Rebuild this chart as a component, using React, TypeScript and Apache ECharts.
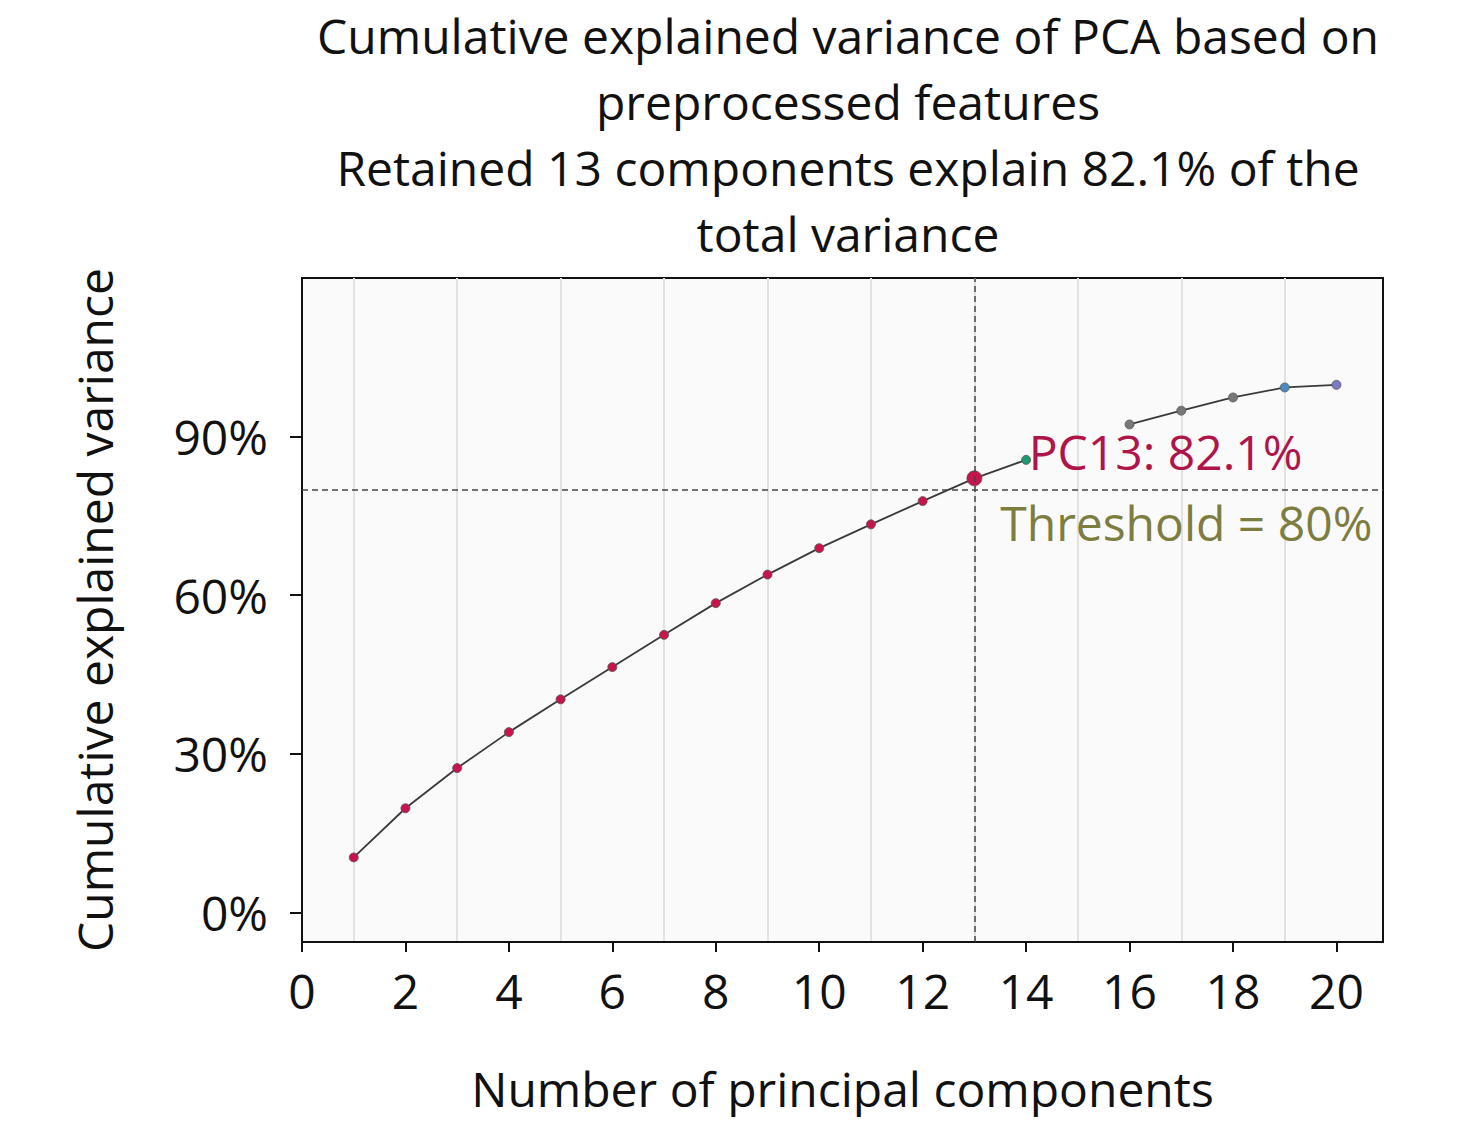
import React, { useEffect, useRef } from "react";
import * as echarts from "echarts";

const components = [1, 2, 3, 4, 5, 6, 7, 8, 9, 10, 11, 12, 13, 14, 15, 16, 17, 18, 19, 20];
const cumulative = [10.4, 19.7, 27.3, 34.1, 40.3, 46.4, 52.5, 58.5, 63.9, 68.9, 73.4, 77.8, 82.1, 85.6, null, 92.3, 94.9, 97.4, 99.3, 99.8];
const pointColors = [
  "#c8144c", "#c8144c", "#c8144c", "#c8144c", "#c8144c", "#c8144c", "#c8144c",
  "#c8144c", "#c8144c", "#c8144c", "#c8144c", "#c8144c", "#c8144c", "#1f9a6e",
  "#888888", "#777777", "#777777", "#777777", "#4a8cc0", "#7a7ac8",
];
const yTicks = [0, 30, 60, 90];
const threshold = 80;
const selectedPC = 13;

const FONT = "'Open Sans', 'Noto Sans', sans-serif";

const App: React.FC = () => {
  const chartRef = useRef<HTMLDivElement>(null);

  useEffect(() => {
    if (!chartRef.current) return;
    const chart = echarts.init(chartRef.current, null, { renderer: "svg" });

    const option = {
      animation: false,
      backgroundColor: "#ffffff",
      title: {
        text:
          "Cumulative explained variance of PCA based on\npreprocessed features\nRetained 13 components explain 82.1% of the\ntotal variance",
        left: 835,
        top: -11,
        textAlign: "center",
        textStyle: { fontFamily: FONT, fontSize: 48, fontWeight: "normal", color: "#111", lineHeight: 66 },
      },
      grid: {
        left: 294,
        right: 85,
        top: 270,
        bottom: 150,
        show: true,
        backgroundColor: "#fafafa",
        borderColor: "#111",
        borderWidth: 2,
      },
      xAxis: {
        type: "value",
        min: 0,
        max: 20.9,
        interval: 2,
        name: "Number of principal components",
        nameLocation: "middle",
        nameGap: 122,
        nameTextStyle: { fontFamily: FONT, fontSize: 48, color: "#111" },
        axisLine: { show: true, onZero: false, lineStyle: { color: "#111", width: 2 } },
        axisTick: { show: true, length: 10, lineStyle: { color: "#111", width: 2 } },
        axisLabel: { fontFamily: FONT, fontSize: 48, color: "#111", margin: 24, showMaxLabel: false },
        splitLine: { show: false },
        minorTick: { show: false, splitNumber: 2 },
        minorSplitLine: { show: true, lineStyle: { color: "#e2e2e2", width: 2 } },
      },
      yAxis: {
        type: "value",
        min: -5.6,
        max: 120,
        name: "Cumulative explained variance",
        nameLocation: "middle",
        nameGap: 184,
        nameTextStyle: { fontFamily: FONT, fontSize: 48, color: "#111" },
        axisLine: { show: true, onZero: false, lineStyle: { color: "#111", width: 2 } },
        axisTick: { show: true, length: 12, customValues: yTicks, lineStyle: { color: "#111", width: 2 } },
        axisLabel: {
          fontFamily: FONT,
          fontSize: 48,
          color: "#111",
          margin: 34,
          customValues: yTicks,
          formatter: (v: number) => `${v}%`,
        },
        splitLine: { show: false },
      },
      series: [
        {
          type: "line",
          data: components.map((c, i) => [c, cumulative[i]]),
          connectNulls: false,
          lineStyle: { color: "#3a3a3a", width: 1.8 },
          symbol: "circle",
          symbolSize: (v: number[]) => (v[0] === selectedPC ? 15 : 9),
          itemStyle: {
            color: (p: { dataIndex: number }) => pointColors[p.dataIndex],
            borderColor: "#555",
            borderWidth: 0.8,
          },
          markLine: {
            silent: true,
            symbol: "none",
            label: { show: false },
            lineStyle: { color: "#444", type: [6, 4], width: 1.5 },
            data: [{ xAxis: selectedPC }, { yAxis: threshold }],
          },
          markPoint: {
            symbol: "circle",
            symbolSize: 0,
            data: [
              {
                coord: [14.05, 87.2],
                label: {
                  show: true,
                  position: "right",
                  distance: 0,
                  formatter: "PC13: 82.1%",
                  fontFamily: FONT,
                  fontSize: 48,
                  color: "#b0154a",
                },
              },
              {
                coord: [13.5, 73.8],
                label: {
                  show: true,
                  position: "right",
                  distance: 0,
                  formatter: "Threshold = 80%",
                  fontFamily: FONT,
                  fontSize: 48,
                  color: "#7d7d40",
                },
              },
            ],
          },
        },
      ],
    };

    chart.setOption(option);
    return () => chart.dispose();
  }, []);

  return <div ref={chartRef} style={{ width: 1460, height: 1109 }} />;
};

export default App;
